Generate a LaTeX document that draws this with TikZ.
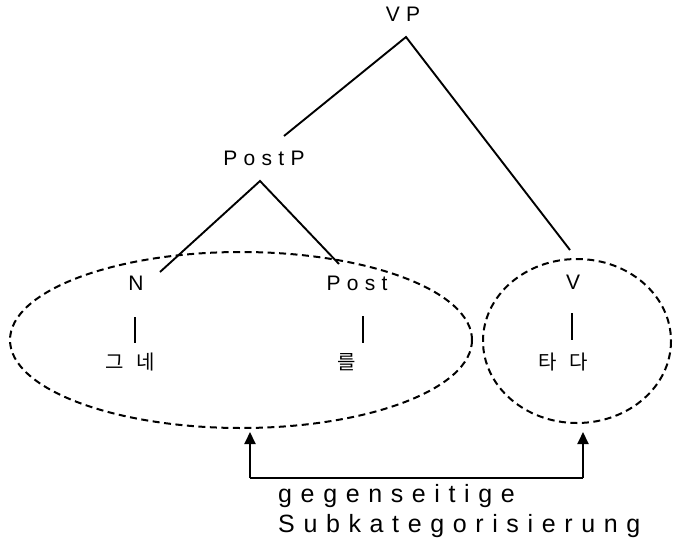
\documentclass[tikz,border=0pt]{standalone}
\usepackage{fontspec}
\setmainfont{Liberation Sans}
\newfontfamily\spaced[LetterSpace=30]{Liberation Sans}
\newfontfamily\spacedb[LetterSpace=34.5]{Liberation Sans}
\newfontfamily\kor{Noto Sans CJK KR}
\usetikzlibrary{arrows.meta}
\begin{document}
\begin{tikzpicture}[x=1pt,y=-1pt,
  lbl/.style={font=\spaced\fontsize{21}{24}\selectfont, inner sep=0pt},
  captext/.style={font=\spacedb\fontsize{25}{28}\selectfont, inner sep=0pt, anchor=base west},
  klbl/.style={font=\kor\fontsize{20}{24}\selectfont, inner sep=0pt},
  branch/.style={line width=1.9pt},
  grp/.style={line width=2pt, dash pattern=on 7pt off 4.5pt},
  sub/.style={line width=2pt, -{Triangle[width=11pt,length=12pt]}}]
\useasboundingbox (0,0) rectangle (679,541);
% labels
\node[lbl] (VP) at (403,14) {VP};
\node[lbl] (PostP) at (264,158) {PostP};
\node[lbl] (N) at (136,283) {N};
\node[lbl] (Post) at (357,283) {Post};
\node[lbl] (V) at (573,282) {V};
\node[klbl] (gn) at (130,362) {그\hspace{13pt}네};
\node[klbl] (rul) at (347,362) {를};
\node[klbl] (tada) at (563,362) {타\hspace{13pt}다};
% tree coordinates
\coordinate (vpA) at (406,37);
\coordinate (vpL) at (284,136);
\coordinate (vpR) at (570,250);
\coordinate (ppA) at (260,181);
\coordinate (ppL) at (160,272);
\coordinate (ppR) at (339,264);
\draw[branch] (vpL) -- (vpA) -- (vpR);
\draw[branch] (ppL) -- (ppA) -- (ppR);
% vertical bars
\coordinate (nT) at (135,317); \coordinate (nB) at (135,343);
\coordinate (pT) at (363,316); \coordinate (pB) at (363,343);
\coordinate (vT) at (572,313); \coordinate (vB) at (572,340);
\draw[branch] (nT) -- (nB);
\draw[branch] (pT) -- (pB);
\draw[branch] (vT) -- (vB);
% ellipses
\draw[grp] (241,340) ellipse [x radius=231, y radius=88];
\draw[grp] (577,341) ellipse [x radius=94, y radius=82];
% arrows
\coordinate (aL) at (250,432);
\coordinate (aR) at (583,432);
\coordinate (bL) at (250,478);
\coordinate (bR) at (583,478);
\draw[sub] (bL) -- (aL);
\draw[sub] (bR) -- (aR);
\draw[line width=2pt] (bL) -- (bR);
\node[captext] (t1) at (278,502) {gegenseitige};
\node[captext] (t2) at (278,532) {Subkategorisierung};
\end{tikzpicture}
\end{document}
